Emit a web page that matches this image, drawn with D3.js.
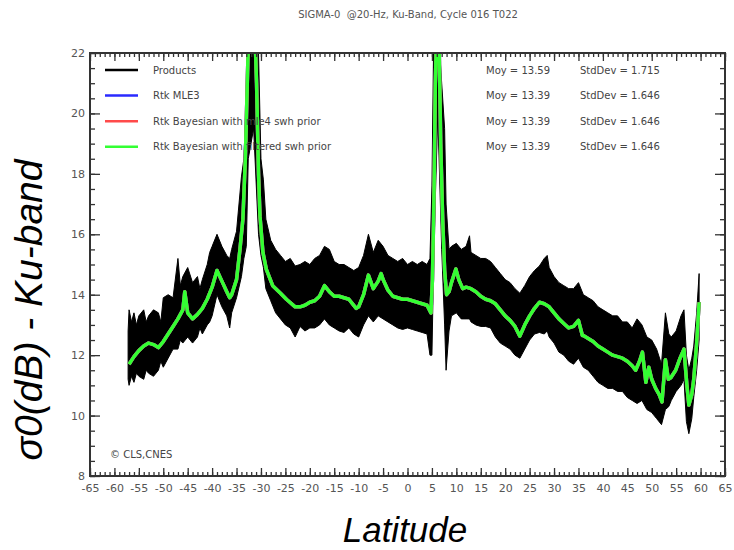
<!DOCTYPE html>
<html>
<head>
<meta charset="utf-8">
<script src="https://cdn.jsdelivr.net/npm/d3@7"></script>
<style>
  body { margin: 0; background: #fff; }
  svg { display: block; font-family: "DejaVu Sans", Verdana, sans-serif; }
</style>
</head>
<body>
<div id="chart"></div>
<script>
  // Products (20 Hz) : noisy band, read as upper / lower envelope
  const bandLat = [-57.2, -57, -56.5, -56, -55.5, -55, -54, -53.5, -53, -52, -51, -50.5, -50, -49, -48, -47, -46.5, -46, -45, -44, -43, -42.5, -42, -41, -40.5, -40, -39, -38, -37, -36.4, -36, -35, -34, -33.5, -33, -32.6, -31.5, -30.5, -30, -29.5, -29, -28, -27, -26, -25, -24, -23, -22, -21, -20, -19, -18, -17, -16, -15, -14, -13, -12, -11, -10, -9, -8, -7, -6, -5, -4, -3, -2, -1, 0, 1, 2, 3, 4, 4.6, 5.0, 5.4, 6.2, 7.0, 7.6, 7.9, 8.5, 9, 10, 11, 12, 12.7, 13, 14, 15, 16, 17, 18, 19, 20, 21, 22, 23, 24, 25, 26, 27, 28, 28.6, 29, 30, 31, 32, 33, 34, 35, 36, 37, 38, 39, 40, 41, 42, 43, 44, 45, 46, 47, 48, 49, 50, 51, 52, 52.8, 53.5, 54, 55, 56, 56.6, 57.1, 57.6, 58.2, 58.6, 59.2, 59.7];
  const bandHi = [12.8, 13.5, 13.1, 13.4, 13.0, 13.3, 13.5, 13.1, 13.3, 13.5, 13.4, 13.1, 13.9, 14.0, 13.9, 15.2, 14.3, 14.6, 14.9, 14.4, 14.6, 14.2, 14.5, 15.0, 15.4, 15.6, 16.0, 15.6, 15.3, 15.2, 15.5, 16.1, 17.9, 18.5, 20.5, 23, 23, 22, 18.5, 17.8, 16.5, 15.8, 15.5, 15.3, 15.1, 15.2, 14.95, 15.0, 15.1, 15.0, 15.2, 15.3, 15.6, 15.5, 15.1, 15.0, 15.0, 14.9, 14.8, 14.9, 15.3, 16.0, 15.4, 15.8, 15.6, 15.3, 15.2, 15.1, 15.2, 15.0, 15.1, 15.0, 15.1, 15.0, 15.2, 17.6, 23, 23, 21, 19.5, 17, 15.5, 15.6, 15.7, 15.5, 15.6, 15.95, 15.4, 15.3, 15.2, 15.2, 15.1, 14.9, 14.7, 14.5, 14.4, 14.2, 14.05, 14.3, 14.6, 14.8, 14.95, 15.2, 15.3, 14.9, 14.6, 14.4, 14.3, 14.2, 14.2, 14.4, 14.0, 13.9, 13.8, 13.6, 13.5, 13.4, 13.3, 13.3, 13.1, 13.1, 12.9, 13.2, 13.0, 12.6, 12.5, 12.2, 11.7, 13.4, 12.7, 12.6, 12.8, 13.3, 13.5, 12.0, 11.5, 11.9, 12.3, 13.4, 14.7];
  const bandLo = [11.2, 11.0, 11.3, 11.1, 11.4, 11.3, 11.2, 11.5, 11.4, 11.3, 11.5, 11.8, 11.6, 11.9, 12.2, 12.2, 12.5, 12.4, 12.6, 12.4, 12.6, 12.9, 12.7, 13.0, 13.1, 13.3, 14.0, 13.6, 13.3, 12.9, 13.4, 13.9, 14.6, 15.2, 15.6, 18.5, 19.5, 16.0, 15.3, 14.9, 14.2, 13.8, 13.4, 13.2, 13.0, 12.9, 12.6, 12.95, 12.8, 12.9, 12.9, 13.0, 13.2, 13.0, 12.9, 12.8, 12.75, 12.9, 12.7, 12.6, 13.0, 13.3, 13.1, 13.3, 13.2, 13.1, 13.0, 12.9, 12.85, 12.9, 12.85, 12.8, 12.75, 12.7, 12.0, 12.0, 15.5, 20, 15.5, 13, 11.5, 12.8, 13.3, 13.4, 13.2, 13.2, 13.2, 13.1, 13.0, 12.95, 12.95, 12.9, 12.6, 12.4, 12.3, 12.2, 12.0, 11.9, 12.2, 12.5, 12.7, 12.75, 12.7, 12.8, 12.6, 12.4, 12.1, 12.0, 11.8, 11.7, 11.9, 11.6, 11.5, 11.3, 11.1, 11.0, 10.9, 10.9, 10.8, 10.8, 10.6, 10.5, 10.4, 10.5, 10.2, 10.1, 9.9, 9.7, 10.2, 10.3, 10.5, 10.8, 11.0, 11.2, 9.8, 9.4, 9.9, 10.6, 11.5, 12.5];

  // Rtk retrackings (MLE3, Bayesian mle4 prior, Bayesian filtered prior) : overlapping curves
  const fitLat = [-57, -56, -55, -54, -53, -52, -51, -50, -49, -48, -47, -46, -45.6, -45, -44, -43, -42, -41, -40, -39, -38, -37, -36.4, -36, -35, -34.3, -33.7, -33.2, -32.8, -32.4, -31.5, -30.9, -30.5, -30.2, -29.6, -28.9, -27.6, -26, -24.8, -23, -22, -21, -20, -19, -18, -17, -16, -15, -14, -13, -12, -11, -10.5, -10, -9, -8, -7, -6, -5.4, -5, -4, -3, -2, -1, 0, 1, 2, 3, 4, 4.8, 5.1, 5.4, 5.7, 6.0, 6.4, 6.8, 7.2, 7.6, 8.0, 8.5, 9, 9.9, 10.5, 11.3, 12, 13, 14, 15, 16, 17, 18, 19, 20, 21, 22, 23, 24, 25, 26, 27, 28, 29, 30, 31, 32, 33, 34, 35, 35.8, 36, 37, 38, 39, 40, 41, 42, 43, 44, 45, 46, 46.7, 47.5, 48.1, 48.8, 49.4, 50, 50.8, 51.5, 52.1, 52.8, 53.4, 53.9, 54.9, 55.8, 56.6, 57.2, 57.6, 58.2, 58.6, 59.2, 59.7];
  const fitVal = [11.7, 11.95, 12.15, 12.3, 12.4, 12.35, 12.25, 12.45, 12.7, 12.95, 13.2, 13.5, 14.1, 13.4, 13.2, 13.35, 13.55, 13.85, 14.25, 14.8, 14.45, 14.1, 13.9, 14.0, 14.5, 15.5, 16.5, 18.5, 21, 23.5, 24, 21, 18, 16.6, 15.4, 14.84, 14.3, 14.05, 13.85, 13.6, 13.6, 13.65, 13.75, 13.8, 13.95, 14.3, 14.1, 13.95, 13.95, 13.9, 13.85, 13.65, 13.55, 13.6, 14.0, 14.65, 14.2, 14.45, 14.7, 14.5, 14.15, 13.95, 13.9, 13.85, 13.85, 13.8, 13.75, 13.7, 13.65, 13.4, 14.5, 17, 21, 23, 23, 19, 16.5, 14.8, 14.0, 14.1, 14.4, 14.85, 14.5, 14.2, 14.25, 14.2, 14.1, 13.95, 13.85, 13.8, 13.7, 13.5, 13.3, 13.15, 12.95, 12.63, 13.0, 13.3, 13.55, 13.75, 13.7, 13.6, 13.4, 13.2, 13.05, 12.9, 12.95, 13.15, 12.65, 12.65, 12.55, 12.45, 12.3, 12.2, 12.1, 12.0, 11.95, 11.9, 11.8, 11.65, 11.5, 11.8, 12.1, 11.1, 11.6, 11.2, 10.9, 10.7, 10.45, 11.85, 11.2, 11.25, 11.5, 11.9, 12.2, 11.0, 10.35, 10.7, 11.2, 12.4, 13.75];

  const seriesNames = ['Products', 'Rtk MLE3', 'Rtk Bayesian with mle4 swh prior', 'Rtk Bayesian with filtered swh prior'];
  const seriesColors = ['#000000', '#2a2aff', '#ff4a4a', '#33ff33'];
  const seriesMoy = ['13.59', '13.39', '13.39', '13.39'];
  const seriesStd = ['1.715', '1.646', '1.646', '1.646'];

  const xTickValues = [-65, -60, -55, -50, -45, -40, -35, -30, -25, -20, -15, -10, -5, 0, 5, 10, 15, 20, 25, 30, 35, 40, 45, 50, 55, 60, 65];
  const yTickValues = [8, 10, 12, 14, 16, 18, 20, 22];

  const W = 734, H = 550;
  const plotL = 90, plotR = 725, plotT = 53, plotB = 476;

  const svg = d3.select('#chart')
    .append('svg')
    .attr('width', W)
    .attr('height', H);

  const x = d3.scaleLinear().domain([-65, 65]).range([plotL, plotR]);
  const y = d3.scaleLinear().domain([8, 22]).range([plotB, plotT]);

  svg.append('defs').append('clipPath')
    .attr('id', 'plot-clip')
    .append('rect')
    .attr('x', plotL).attr('y', plotT)
    .attr('width', plotR - plotL).attr('height', plotB - plotT);

  // Title
  svg.append('text')
    .attr('x', 408).attr('y', 18)
    .attr('text-anchor', 'middle')
    .style('font-size', '10px')
    .style('fill', '#555')
    .style('white-space', 'pre')
    .text('SIGMA-0  @20-Hz, Ku-Band, Cycle 016 T022');

  const plot = svg.append('g').attr('clip-path', 'url(#plot-clip)');

  // Products band
  const band = bandLat.map((v, i) => ({ lat: v, hi: bandHi[i], lo: bandLo[i] }));
  plot.append('path')
    .datum(band)
    .attr('fill', '#000')
    .attr('stroke', '#000')
    .attr('stroke-width', 1)
    .attr('d', d3.area()
      .x(d => x(d.lat))
      .y0(d => y(d.lo))
      .y1(d => y(d.hi)));

  // Rtk curves (blue and red hidden under green, same values)
  const fit = fitLat.map((v, i) => ({ lat: v, val: fitVal[i] }));
  const fitLine = d3.line().x(d => x(d.lat)).y(d => y(d.val));
  [1, 2, 3].forEach(k => {
    plot.append('path')
      .datum(fit)
      .attr('fill', 'none')
      .attr('stroke', seriesColors[k])
      .attr('stroke-width', 3.5)
      .attr('stroke-linejoin', 'round')
      .attr('d', fitLine);
  });

  // Axes : inward ticks on all four sides
  const minorX = d3.range(-65, 66, 1);
  const minorY = d3.range(8, 22.01, 0.5);
  const axisStyle = g => {
    g.select('.domain').remove();
    g.selectAll('line').attr('stroke', '#333').attr('stroke-width', 1.3);
    g.selectAll('text').style('font-size', '11px').style('fill', '#555')
      .style('font-family', '"DejaVu Sans", Verdana, sans-serif');
  };

  svg.append('g').attr('transform', `translate(0,${plotB})`)
    .call(d3.axisBottom(x).tickValues(minorX).tickSize(-4).tickFormat(''))
    .call(axisStyle);
  svg.append('g').attr('transform', `translate(0,${plotB})`)
    .call(d3.axisBottom(x).tickValues(xTickValues).tickSize(-8).tickPadding(8).tickFormat(d => String(d)))
    .call(axisStyle);
  svg.append('g').attr('transform', `translate(0,${plotT})`)
    .call(d3.axisTop(x).tickValues(minorX).tickSize(-4).tickFormat(''))
    .call(axisStyle);
  svg.append('g').attr('transform', `translate(0,${plotT})`)
    .call(d3.axisTop(x).tickValues(xTickValues).tickSize(-8).tickFormat(''))
    .call(axisStyle);

  svg.append('g').attr('transform', `translate(${plotL},0)`)
    .call(d3.axisLeft(y).tickValues(minorY).tickSize(-5).tickFormat(''))
    .call(axisStyle);
  svg.append('g').attr('transform', `translate(${plotL},0)`)
    .call(d3.axisLeft(y).tickValues(yTickValues).tickSize(-10).tickPadding(5).tickFormat(d => String(d)))
    .call(axisStyle);
  svg.append('g').attr('transform', `translate(${plotR},0)`)
    .call(d3.axisRight(y).tickValues(minorY).tickSize(-5).tickFormat(''))
    .call(axisStyle);
  svg.append('g').attr('transform', `translate(${plotR},0)`)
    .call(d3.axisRight(y).tickValues(yTickValues).tickSize(-10).tickFormat(''))
    .call(axisStyle);

  // Frame
  svg.append('rect')
    .attr('x', plotL).attr('y', plotT)
    .attr('width', plotR - plotL).attr('height', plotB - plotT)
    .attr('fill', 'none')
    .attr('stroke', '#333')
    .attr('stroke-width', 2);

  // Legend
  const legend = svg.append('g');
  seriesNames.forEach((name, i) => {
    const ly = 70 + i * 25.6;
    legend.append('line')
      .attr('x1', 105).attr('x2', 138)
      .attr('y1', ly).attr('y2', ly)
      .attr('stroke', seriesColors[i])
      .attr('stroke-width', 2.5);
    legend.append('text')
      .attr('x', 153).attr('y', ly + 3.5)
      .style('font-size', '10px').style('fill', '#444')
      .text(name);
    legend.append('text')
      .attr('x', 486).attr('y', ly + 3.5)
      .style('font-size', '10px').style('fill', '#444')
      .text('Moy = ' + seriesMoy[i]);
    legend.append('text')
      .attr('x', 580).attr('y', ly + 3.5)
      .style('font-size', '10px').style('fill', '#444')
      .text('StdDev = ' + seriesStd[i]);
  });

  // Copyright
  svg.append('text')
    .attr('x', 110).attr('y', 458)
    .style('font-size', '10px').style('fill', '#444')
    .text('\u00A9 CLS,CNES');

  // Axis titles
  svg.append('text')
    .attr('x', 405).attr('y', 542)
    .attr('text-anchor', 'middle')
    .style('font-family', '"Liberation Sans", Arial, sans-serif')
    .style('font-style', 'italic')
    .style('font-size', '35px')
    .style('fill', '#000')
    .text('Latitude');

  svg.append('text')
    .attr('transform', 'translate(42,310) rotate(-90)')
    .attr('text-anchor', 'middle')
    .style('font-family', '"Liberation Sans", Arial, sans-serif')
    .style('font-style', 'italic')
    .style('font-size', '39px')
    .style('fill', '#000')
    .text('\u03C30(dB) - Ku-band');
</script>
</body>
</html>
